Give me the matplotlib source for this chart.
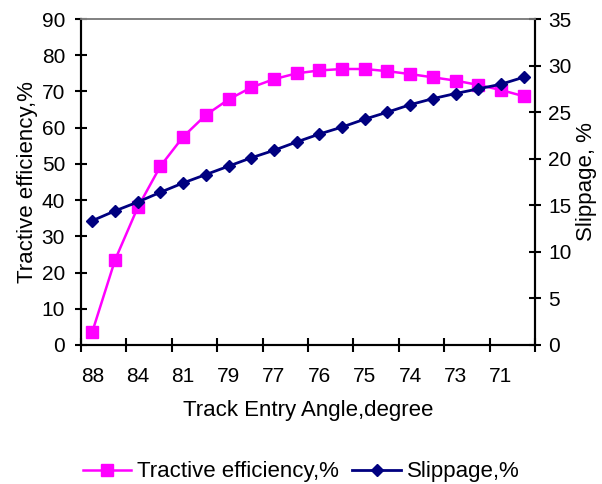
import matplotlib
matplotlib.use("Agg")
import matplotlib.pyplot as plt
from matplotlib.ticker import FixedLocator

plt.rcParams['font.family'] = ['Liberation Sans', 'DejaVu Sans']

# valeurs
efficacite = [3.7, 23.5, 38.0, 49.4, 57.5, 63.5, 67.8, 71.1, 73.4, 75.0,
              75.8, 76.2, 76.2, 75.6, 74.8, 73.9, 73.0, 71.8, 70.4, 68.7]
glissement = [13.35, 14.4, 15.35, 16.4, 17.4, 18.3, 19.2, 20.1, 20.9, 21.8,
              22.65, 23.4, 24.25, 25.0, 25.8, 26.45, 27.0, 27.5, 28.0, 28.75]
etiquettes_angle = ["88", "84", "81", "79", "77", "76", "75", "74", "73", "71"]

positions = list(range(len(efficacite)))
taille = 15
taille_titres = 16

fig = plt.figure(figsize=(6.02, 4.84), dpi=100)
ax = fig.add_axes([0.1346, 0.2872, 0.8887 - 0.1346, 0.9607 - 0.2872])
ax2 = ax.twinx()

l1, = ax.plot(positions, efficacite, color='#FF00FF', lw=1.8, marker='s',
              markersize=8.5, label='Tractive efficiency,%', zorder=3)
l2, = ax2.plot(positions, glissement, color='#000080', lw=2.0, marker='D',
               markersize=6.5, label='Slippage,%', zorder=3)

ax.set_xlim(-0.5, len(positions) - 0.5)
ax.set_ylim(0, 90)
ax2.set_ylim(0, 35)
ax.set_yticks(range(0, 91, 10))
ax2.set_yticks(range(0, 36, 5))

# graduations entre les categories, etiquettes une sur deux
ax.xaxis.set_major_locator(FixedLocator([i - 0.5 for i in range(0, len(positions) + 1, 2)]))
ax.xaxis.set_minor_locator(FixedLocator(positions[::2]))
ax.set_xticklabels([], minor=False)
ax.set_xticklabels(etiquettes_angle, minor=True)
ax.tick_params(axis='x', which='major', direction='inout', length=10, width=1.5)
ax.tick_params(axis='x', which='minor', length=0, pad=16, labelsize=taille)
ax.tick_params(axis='y', direction='inout', length=9, width=1.5, labelsize=taille, pad=7)
ax2.tick_params(axis='y', direction='inout', length=9, width=1.5, labelsize=taille, pad=5)

for a in (ax, ax2):
    for cote in ('left', 'right', 'bottom'):
        a.spines[cote].set_linewidth(1.5)
    a.spines['top'].set_color('#808080')
    a.spines['top'].set_linewidth(1.2)

ax.set_xlabel('Track Entry Angle,degree', fontsize=taille_titres, labelpad=10)
ax.set_ylabel('Tractive efficiency,%', fontsize=taille_titres, labelpad=3)
ax2.set_ylabel('Slippage, %', fontsize=taille_titres, labelpad=3)

fig.legend(handles=[l1, l2], loc='center', bbox_to_anchor=(0.5, 0.025), ncol=2,
           frameon=False, fontsize=taille_titres, handlelength=2.2, handletextpad=0.25,
           columnspacing=0.6)

fig.savefig('out.png', dpi=100)
